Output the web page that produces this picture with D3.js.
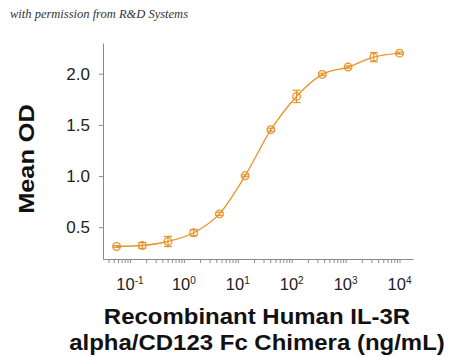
<!DOCTYPE html>
<html><head><meta charset="utf-8">
<script src="https://cdn.jsdelivr.net/npm/d3@7"></script>
<style>body{margin:0;background:#fff}svg{display:block}</style>
</head><body>
<svg id="c" width="450" height="357"></svg>
<script>
const concentrations = [0.0565, 0.169, 0.508, 1.52, 4.57, 13.7, 41.2, 123, 370, 1111, 3333, 10000];
const meanOD = [0.312, 0.322, 0.361, 0.446, 0.631, 1.003, 1.453, 1.778, 1.993, 2.065, 2.162, 2.201];
const errOD = [0.008, 0.028, 0.05, 0.03, 0.015, 0.01, 0.015, 0.06, 0.012, 0.012, 0.045, 0.01];
const yTicks = [0.5, 1.0, 1.5, 2.0];
const xMajorExps = [-1, 0, 1, 2, 3, 4];
const yTitle = "Mean OD";
const xTitle = ["Recombinant Human IL-3R", "alpha/CD123 Fc Chimera (ng/mL)"];
const watermark = "with permission from R&D Systems";

const color = "#E5952C";
const axisColor = "#8a8a8a";
const font = "Arial, 'Liberation Sans', sans-serif";
const svg = d3.select("#c");

const x = d3.scaleLog().domain([Math.pow(10, -1.5), Math.pow(10, 4.25)]).range([103, 413]);
const y = d3.scaleLinear().domain([0.19, 2.30]).range([259, 43]);

svg.append("text").attr("x", 10).attr("y", 18)
  .attr("font-family", "'Liberation Serif', serif").attr("font-style", "italic")
  .attr("font-size", 12.5).attr("fill", "#333").text(watermark);

// x ticks (major + minor)
const xTickVals = [];
for (let e = -2; e <= 4; e++) for (let m = 1; m <= 9; m++) {
  const v = m * Math.pow(10, e);
  if (v >= 0.04 && v <= 10000.0001) xTickVals.push(v);
}
const xAxis = svg.append("g").attr("transform", "translate(0,259)")
  .call(d3.axisBottom(x).tickValues(xTickVals).tickSize(4).tickSizeOuter(0).tickFormat(() => ""));
xAxis.select(".domain").attr("stroke", axisColor);
xAxis.selectAll(".tick line").attr("stroke", axisColor);

const xl = svg.append("g");
xMajorExps.forEach(e => {
  const t = xl.append("text").attr("x", x(Math.pow(10, e))).attr("y", 290)
    .attr("text-anchor", "middle").attr("font-family", font)
    .attr("font-size", 16.5).attr("fill", "#222");
  t.append("tspan").text("10");
  t.append("tspan").attr("dy", -6.5).attr("font-size", 10).text(e < 0 ? "-" + (-e) : String(e));
});

const yAxis = svg.append("g").attr("transform", "translate(103,0)")
  .call(d3.axisLeft(y).tickValues(yTicks).tickSize(4).tickSizeOuter(0).tickPadding(9).tickFormat(d3.format(".1f")));
yAxis.select(".domain").attr("stroke", axisColor);
yAxis.selectAll(".tick line").attr("stroke", axisColor);
yAxis.selectAll(".tick text").attr("font-family", font)
  .attr("font-size", 17).attr("fill", "#222");

// curve
const pts = concentrations.map((c, i) => [c, meanOD[i]]);
svg.append("path").datum(pts)
  .attr("d", d3.line().x(d => x(d[0])).y(d => y(d[1])).curve(d3.curveMonotoneX))
  .attr("fill", "none").attr("stroke", color).attr("stroke-width", 1.3);

// error bars
const eb = svg.append("g").attr("stroke", color).attr("stroke-width", 1.2);
concentrations.forEach((c, i) => {
  const cx = x(c), lo = y(meanOD[i] - errOD[i]), hi = y(meanOD[i] + errOD[i]);
  eb.append("line").attr("x1", cx).attr("x2", cx).attr("y1", lo).attr("y2", hi);
  eb.append("line").attr("x1", cx - 4).attr("x2", cx + 4).attr("y1", lo).attr("y2", lo);
  eb.append("line").attr("x1", cx - 4).attr("x2", cx + 4).attr("y1", hi).attr("y2", hi);
});
svg.append("g").selectAll("circle").data(pts).join("circle")
  .attr("cx", d => x(d[0])).attr("cy", d => y(d[1])).attr("r", 3.8)
  .attr("fill", "none").attr("stroke", color).attr("stroke-width", 1.3);

svg.append("text").attr("transform", "translate(34,159) rotate(-90) scale(1.15,1)")
  .attr("text-anchor", "middle").attr("font-family", font)
  .attr("font-weight", "bold").attr("font-size", 22).attr("fill", "#111").text(yTitle);

xTitle.forEach((s, i) => {
  svg.append("text").attr("transform", `translate(257,${323.5 + i * 26.5}) scale(1.09,1)`)
    .attr("text-anchor", "middle").attr("font-family", font)
    .attr("font-weight", "bold").attr("font-size", 22).attr("fill", "#111").text(s);
});
</script>
</body></html>
